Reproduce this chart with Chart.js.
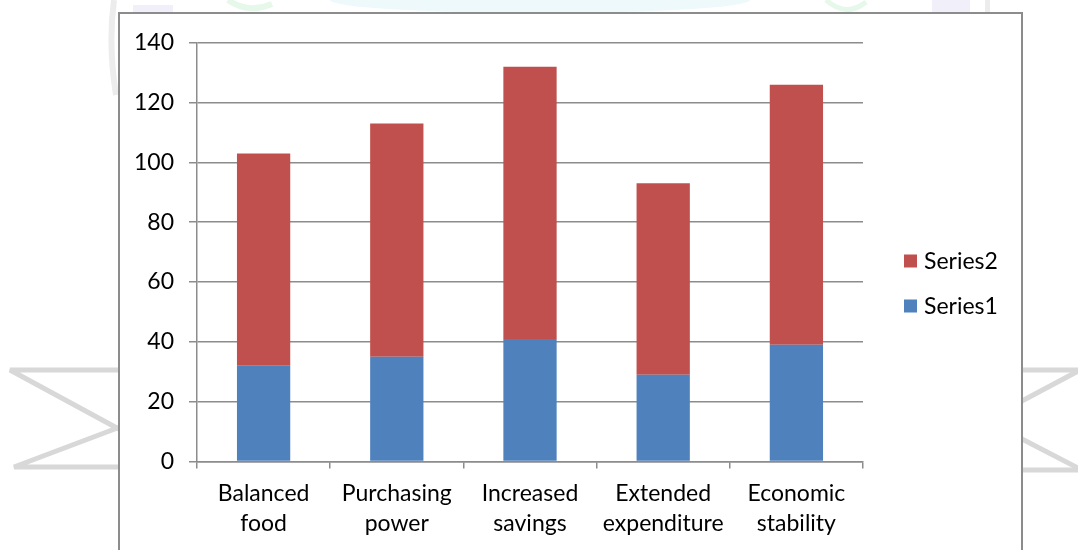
<!DOCTYPE html>
<html>
<head>
<meta charset="utf-8">
<title>Stacked bars</title>
<script src="https://cdn.jsdelivr.net/npm/chart.js@4.4.0/dist/chart.umd.min.js"></script>
<style>
  html, body { margin: 0; padding: 0; width: 1078px; height: 550px; overflow: hidden; background: #fff; }
  #backdrop { position: absolute; left: 0; top: 0; }
  #frame { position: absolute; left: 118px; top: 12px; width: 901px; height: 540px; border: 2px solid #8c8c8c; background: #fff; }
</style>
</head>
<body>
<svg id="backdrop" width="1078" height="550">
  <!-- faint logo pieces behind the chart box -->
  <path d="M228,0 Q248,14 272,4" fill="none" stroke="#e6f8ea" stroke-width="6"/>
  <ellipse cx="540" cy="0" rx="210" ry="13" fill="#eef9fc"/>
  <path d="M826,0 Q846,18 866,2" fill="none" stroke="#e6f8ea" stroke-width="5"/>
  <rect x="133" y="5" width="40" height="8" fill="#f1eff9"/>
  <rect x="932" y="0" width="38" height="12" fill="#f1eff9"/>
  <rect x="985" y="0" width="5" height="12" fill="#ececec"/>
  <path d="M114,0 Q108,45 116,95" fill="none" stroke="#ececec" stroke-width="6"/>
  <g fill="none" stroke="#d8d8d8" stroke-width="5">
    <path d="M120,370 L10,370 L128,434"/>
    <path d="M128,424 L14,467 L120,467"/>
    <path d="M1020,370 L1080,370"/>
    <path d="M1020,402 L1080,370"/>
    <path d="M1020,438 L1080,469"/>
    <path d="M1020,470 L1080,470"/>
  </g>
</svg>
<div id="frame"><canvas id="stackChart" width="901" height="540"></canvas></div>
<script>
const categories = [
  ['Balanced', 'food'],
  ['Purchasing', 'power'],
  ['Increased', 'savings'],
  ['Extended', 'expenditure'],
  ['Economic', 'stability']
];
const series1 = [32, 35, 41, 29, 39];
const series2 = [71, 78, 91, 64, 87];
const yTicks = [0, 20, 40, 60, 80, 100, 120, 140];

const FONT_FAMILY = 'Lato, Carlito, Calibri, sans-serif';
const FONT_SIZE = 23;
const AXIS_GREY = '#8c8c8c';

// legend is drawn on the right, top to bottom in reverse stacking order
const sideLegend = {
  id: 'sideLegend',
  afterDraw(chart) {
    const ctx = chart.ctx;
    const boxX = 784;
    let centerY = 247;
    ctx.save();
    ctx.font = FONT_SIZE + 'px ' + FONT_FAMILY;
    ctx.textBaseline = 'alphabetic';
    chart.data.datasets.slice().reverse().forEach(ds => {
      ctx.fillStyle = ds.backgroundColor;
      ctx.fillRect(boxX, centerY - 6.5, 13, 13);
      ctx.fillStyle = '#000';
      ctx.fillText(ds.label, boxX + 20, centerY + 8);
      centerY += 45;
    });
    ctx.restore();
  }
};

const ctx = document.getElementById('stackChart').getContext('2d');
const stackChart = new Chart(ctx, {
  type: 'bar',
  data: {
    labels: categories,
    datasets: [
      {
        label: 'Series1',
        data: series1,
        backgroundColor: '#4f81bd',
        borderWidth: 0,
        barPercentage: 0.4,
        categoryPercentage: 1
      },
      {
        label: 'Series2',
        data: series2,
        backgroundColor: '#c0504d',
        borderWidth: 0,
        barPercentage: 0.4,
        categoryPercentage: 1
      }
    ]
  },
  options: {
    responsive: false,
    animation: false,
    layout: { padding: { left: 0, top: 26, right: 158, bottom: 0 } },
    plugins: {
      legend: { display: false },
      tooltip: { enabled: false }
    },
    scales: {
      x: {
        stacked: true,
        offset: true,
        grid: { offset: true, drawOnChartArea: false, drawTicks: true, tickLength: 7, color: AXIS_GREY, lineWidth: 1.5 },
        border: { color: AXIS_GREY, width: 1.5 },
        ticks: {
          color: '#000',
          padding: 10,
          maxRotation: 0,
          autoSkip: false,
          font: { family: FONT_FAMILY, size: FONT_SIZE, lineHeight: 1.3 }
        },
        afterFit(scale) { scale.height = 92.5; }
      },
      y: {
        stacked: true,
        min: 0,
        max: 140,
        grid: { color: AXIS_GREY, lineWidth: 1.5, tickLength: 8 },
        border: { color: AXIS_GREY, width: 1.5 },
        ticks: {
          color: '#000',
          padding: 15,
          font: { family: FONT_FAMILY, size: FONT_SIZE }
        },
        afterBuildTicks(scale) { scale.ticks = yTicks.map(v => ({ value: v })); },
        afterFit(scale) { scale.width = 77; }
      }
    }
  },
  plugins: [sideLegend]
});
</script>
</body>
</html>
